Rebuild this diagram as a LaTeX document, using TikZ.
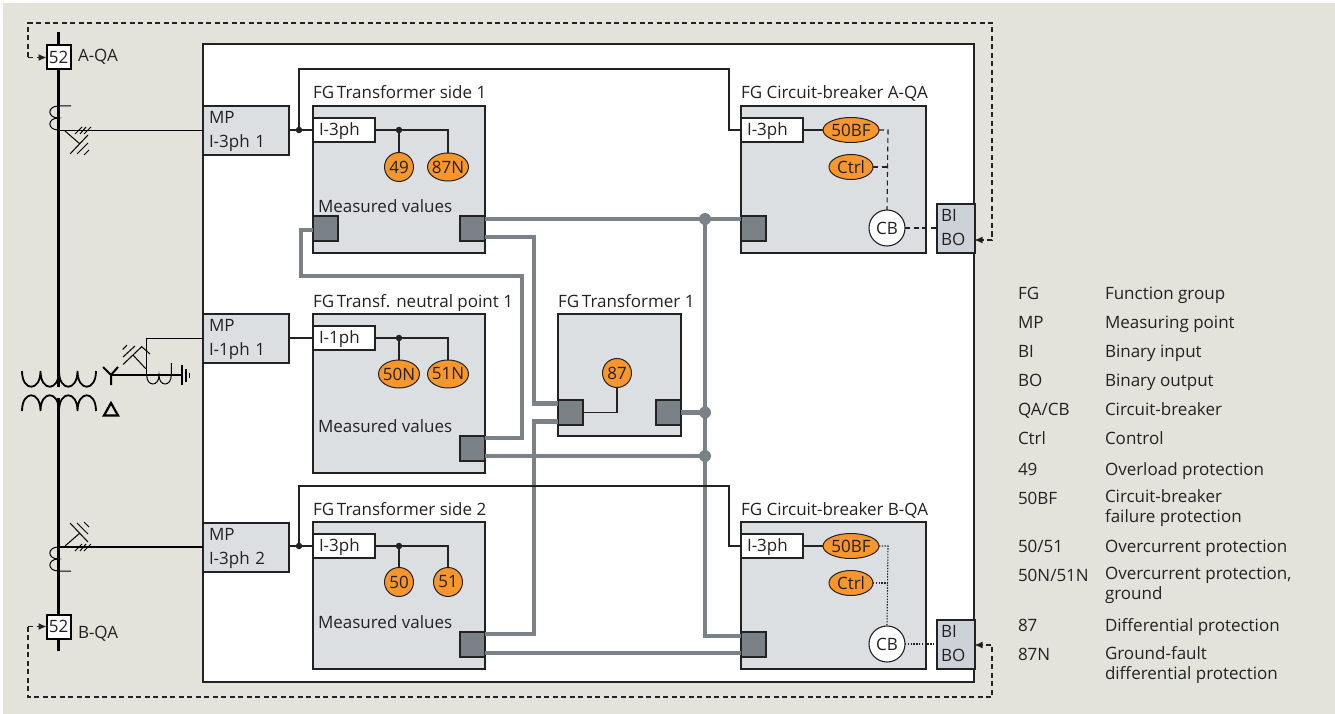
\documentclass[tikz,border=0pt]{standalone}
\usepackage{fontspec}
\setmainfont{Open Sans}
\usetikzlibrary{arrows.meta,calc,shapes.geometric}
\definecolor{pagebg}{HTML}{E3E3DC}
\definecolor{grpfill}{HTML}{DCDFE2}
\definecolor{iofill}{HTML}{CDD2D9}
\definecolor{busgray}{HTML}{7A8287}
\definecolor{ink}{HTML}{222222}
\definecolor{fnorange}{HTML}{F7962D}
\tikzset{
  every node/.style={inner sep=0pt,outer sep=0pt,text=ink,font=\fontsize{17}{24}\selectfont},
  frame/.style={draw=ink,line width=1.1pt,fill=white,anchor=north west},
  grp/.style={draw=ink,line width=1.1pt,fill=grpfill,anchor=north west},
  mpbox/.style={draw=ink,line width=1.1pt,fill=grpfill,anchor=north west,minimum width=86pt,minimum height=49pt,text width=74pt,inner xsep=6pt,align=left,execute at begin node=\rule{0pt}{14pt}},
  iobox/.style={draw=ink,line width=1.1pt,fill=iofill,anchor=north west,minimum width=37pt,minimum height=49pt,text width=30pt,inner xsep=4pt,align=left,execute at end node=\rule[-2pt]{0pt}{2pt}},
  inbox/.style={draw=ink,line width=1.1pt,fill=white,anchor=north west,minimum height=24pt,text width=50pt,inner xsep=6pt,align=left,execute at begin node=\rule{0pt}{16pt}},
  port/.style={draw=ink,line width=1.1pt,fill=busgray,anchor=north west,minimum width=25pt,minimum height=25pt},
  fncirc/.style={draw=ink,line width=1pt,fill=fnorange,circle,minimum size=29pt},
  fnoval/.style={draw=ink,line width=1pt,fill=fnorange,ellipse,minimum width=#1,minimum height=25pt},
  fnoval/.default=56pt,
  numoval/.style={fnoval=41pt,minimum height=28pt,inner xsep=-3.5pt},
  cbnode/.style={draw=ink,line width=1.1pt,fill=white,circle,minimum size=36pt},
  qa/.style={draw=black,line width=2pt,fill=white,minimum size=24pt},
  title/.style={anchor=base west},
  legend/.style={anchor=north west,align=left,font=\fontsize{17}{20}\selectfont,execute at begin node=\rule{0pt}{14pt}},
  wire/.style={draw=ink,line width=1.1pt},
  bus/.style={draw=busgray,line width=4.5pt},
  dashline/.style={draw=ink,line width=1.1pt,dash pattern=on 5pt off 3.5pt},
  dotline/.style={draw=ink,line width=1.1pt,dash pattern=on 1.4pt off 1.4pt},
  tiparrow/.style={-{Latex[length=8pt,width=7pt]}},
  thinsym/.style={draw=black,line width=1pt},
  dot/.style={circle,fill=ink,minimum size=6.5pt},
  busdot/.style={circle,fill=busgray,minimum size=12pt},
}
\begin{document}
\begin{tikzpicture}[x=1pt,y=-1pt]
\useasboundingbox (0,0) rectangle (1335,714);
\fill[white] (0,0) rectangle (1335,714);
\fill[pagebg] (3,3) rectangle (1335,714);

% outer device frame
\node[frame,minimum width=771pt,minimum height=638pt] (dev) at (203,44) {};

% measuring points
\node[mpbox] (mp1) at (203,106) {MP\\I-3ph 1};
\node[mpbox] (mp2) at (203,314) {MP\\I-1ph 1};
\node[mpbox] (mp3) at (203,523) {MP\\I-3ph 2};

% function groups
\node[grp,minimum width=172pt,minimum height=147pt] (ts1) at (313,106) {};
\node[grp,minimum width=172pt,minimum height=159pt] (np) at (313,314) {};
\node[grp,minimum width=172pt,minimum height=147pt] (ts2) at (313,522) {};
\node[grp,minimum width=123pt,minimum height=122pt] (tr) at (558,314) {};
\node[grp,minimum width=185pt,minimum height=147pt] (cba) at (741,106) {};
\node[grp,minimum width=185pt,minimum height=147pt] (cbb) at (741,522) {};

\node[title] (ttl1) at (313,99) {FG\,Transformer side 1};
\node[title] (ttl2) at (313,307) {FG\,Transf. neutral point 1};
\node[title] (ttl3) at (313,515) {FG\,Transformer side 2};
\node[title] (ttl4) at (558,307) {FG\,Transformer 1};
\node[title] (ttl5) at (741,99) {FG Circuit-breaker A-QA};
\node[title] (ttl6) at (741,515) {FG Circuit-breaker B-QA};

\node[title] (mv1) at (318,212) {Measured values};
\node[title] (mv2) at (318,432) {Measured values};
\node[title] (mv3) at (318,628) {Measured values};

% input boxes
\node[inbox] (in1) at (313,118) {I-3ph};
\node[inbox] (in2) at (313,326) {I-1ph};
\node[inbox] (in3) at (313,534) {I-3ph};
\node[inbox] (in4) at (741,118) {I-3ph};
\node[inbox] (in5) at (741,534) {I-3ph};

% ports
\node[port] (p1l) at (313,216) {};
\node[port] (p1r) at (460,216) {};
\node[port] (p2r) at (460,436) {};
\node[port] (p3r) at (460,632) {};
\node[port] (ptl) at (558,400) {};
\node[port] (ptr) at (656,400) {};
\node[port] (pa) at (741,216) {};
\node[port] (pb) at (741,632) {};

% function nodes
\node[fncirc] (f49) at (399,167) {49};
\node[numoval] (f87n) at (448,167) {87N};
\node[numoval] (f50n) at (399,374) {50N};
\node[numoval] (f51n) at (448,374) {51N};
\node[fncirc] (f50) at (399,582) {50};
\node[fncirc] (f51) at (448,582) {51};
\node[fncirc] (f87) at (617,373) {87};
\node[fnoval=56pt] (bfa) at (851,130) {50BF};
\node[fnoval=44pt] (ca) at (851,167) {Ctrl};
\node[fnoval=56pt] (bfb) at (851,546) {50BF};
\node[fnoval=44pt] (cb) at (851,583) {Ctrl};
\node[cbnode] (cba1) at (887,228) {CB};
\node[cbnode] (cbb1) at (887,644) {CB};

% binary IO
\node[iobox] (ioa) at (937,204) {BI\\BO};
\node[iobox] (iob) at (937,620) {BI\\BO};

% bus connectors
\coordinate (t1) at (705,219);
\coordinate (t2) at (705,412.5);
\coordinate (t3) at (705,456);
\draw[bus] ([yshift=9.5pt]p1r.east) -- ([yshift=9.5pt]pa.west);
\draw[bus] ([yshift=-8.5pt]p1r.east) -- ++(49,0) |- ([yshift=9pt]ptl.west);
\draw[bus] ([yshift=-1.5pt]p1l.west) -- ++(-12,0) |- (522,276) |- ([yshift=10.5pt]p2r.east);
\draw[bus] ([yshift=-7.5pt]p2r.east) -- (t3);
\draw[bus] (ptr.east) -- (t2);
\draw[bus] ([yshift=-9pt]ptl.west) -- ++(-24,0) |- ([yshift=10.5pt]p3r.east);
\draw[bus] ([yshift=-8.5pt]p3r.east) -- ([yshift=-8.5pt]pb.west);
\draw[bus] (t1) |- ([yshift=8.5pt]pb.west);
\node[busdot] (d1) at (t1) {};
\node[busdot] (d2) at (t2) {};
\node[busdot] (d3) at (t3) {};

% signal wires
\draw[wire] (mp1.east |- in1) -- (in1.west);
\draw[wire] (mp2.east |- in2) -- (in2.west);
\draw[wire] (mp3.east |- in3) -- (in3.west);
\node[dot] (j1) at (299,130) {};
\node[dot] (j3) at (299,546) {};
\draw[wire] (j1) -- (299,69) -- (729,69) -- (729,130) -- (in4.west);
\draw[wire] (j3) -- (299,486) -- (729,486) -- (729,546) -- (in5.west);
\node[dot] (k1) at (399,130) {};
\node[dot] (k3) at (399,546) {};
\node[dot] (k2) at (399,338) {};
\draw[wire] (in1.east) -- (k1) -- (448,130) -- (f87n.north);
\draw[wire] (k1) -- (f49.north);
\draw[wire] (in2.east) -- (k2) -- (448,338) -- (f51n.north);
\draw[wire] (k2) -- (f50n.north);
\draw[wire] (in3.east) -- (k3) -- (448,546) -- (f51.north);
\draw[wire] (k3) -- (f50.north);
\draw[wire] (ptl.east) -| (f87.south);
\draw[wire] (in4.east) -- (bfa.west);
\draw[wire] (in5.east) -- (bfb.west);

% trip paths
\draw[dashline] (bfa.east) -- (888,130) -- (cba1.north);
\draw[dashline] (ca.east) -- (888,167);
\draw[dashline] (cba1.east) -- (ioa.west |- cba1);
\draw[dotline] (bfb.east) -- (888,546) -- (cbb1.north);
\draw[dotline] (cb.east) -- (888,583);
\draw[dotline] (cbb1.east) -- (iob.west |- cbb1);

% single line: bus bar and breakers
\node[qa] (qa1) at (58.5,57.5) {52};
\node[qa] (qa2) at (58.5,626.5) {52};
\node[anchor=base west] (qal1) at (78,62) {A-QA};
\node[anchor=base west] (qal2) at (78,638) {B-QA};
\coordinate (bt) at (58.5,32);
\coordinate (bb) at (58.5,651);
\draw[black,line width=2.4pt] (bt) -- (qa1.north);
\draw[black,line width=2.4pt] (qa1.south) -- (58.5,387);
\draw[black,line width=2.4pt] (58.5,398) -- (qa2.north);
\draw[black,line width=2.4pt] (qa2.south) -- (bb);

% outside trip wiring
\coordinate (c1) at (28,23);
\coordinate (c2) at (992,23);
\coordinate (c3) at (992,697);
\coordinate (c4) at (28,697);
\draw[dashline,tiparrow] (c1 |- qa1) -- (c1) -- (c2) -- (c2 |- 0,240) -- (974.5,240);
\draw[dashline,tiparrow] (c4 |- qa2) -- (c4) -- (c3) -- (c3 |- 0,645) -- (974.5,645);
\draw[dashline,tiparrow] (c1 |- qa1) -- (qa1.west);
\draw[dashline,tiparrow] (c4 |- qa2) -- (qa2.west);

% current and voltage transformers, upper
\draw[wire,black] (58.5,130.5) -- (mp1.west |- 0,130.5);
\draw[thinsym] (71,106) -- (58.5,106) .. controls (47,106) and (47,118) .. (58.5,118) .. controls (47,118) and (47,130) .. (58.5,130);
\draw[thinsym] (65,131) -- (80,144) (88,135) -- (70,154) (88,143) -- (77,154) (89,150) -- (84,155);
\draw[thinsym] (75,134) -- (82,127) (80,134) -- (86,127) (84,134) -- (91,127);

% current and voltage transformers, lower
\draw[wire,black] (58.5,547) -- (mp3.west |- 0,547);
\draw[thinsym] (71,571) -- (58.5,571) .. controls (47,571) and (47,559) .. (58.5,559) .. controls (47,559) and (47,547) .. (58.5,547);
\draw[thinsym] (65,546) -- (80,533) (88,542) -- (70,523) (88,534) -- (77,523) (89,527) -- (84,522);
\draw[thinsym] (75,551) -- (82,544) (80,551) -- (86,544) (84,551) -- (91,544);

% power transformer
\draw[black,line width=1.8pt]
  (22,371) .. controls (22,392) and (40.5,392) .. (40.5,371)
  .. controls (40.5,392) and (59,392) .. (59,371)
  .. controls (59,392) and (77.5,392) .. (77.5,371)
  .. controls (77.5,392) and (96,392) .. (96,371);
\draw[black,line width=1.8pt]
  (22,411) .. controls (22,390) and (40.5,390) .. (40.5,411)
  .. controls (40.5,390) and (59,390) .. (59,411)
  .. controls (59,390) and (77.5,390) .. (77.5,411)
  .. controls (77.5,390) and (96,390) .. (96,411);
\draw[black,line width=2pt] (103,367) -- (111,375) -- (118,367) (111,375) -- (111,385);
\draw[black,line width=2.2pt] (104,415.5) -- (111,403) -- (118,415.5) -- cycle;

% neutral point branch
\draw[black,line width=1.5pt] (111,375) -- (182,375);
\draw[black,line width=1.6pt] (182,365) -- (182,385);
\draw[black,line width=1.6pt] (186,369) -- (186,382);
\draw[black,line width=1.6pt] (189.5,372.5) -- (189.5,378);
\draw[thinsym] (146.7,375) .. controls (146.7,387) and (159,387) .. (159,375) .. controls (159,387) and (171.3,387) .. (171.3,375) -- (171.3,363);
\draw[wire,black] (146.7,375) -- (146.7,338.5) -- (mp2.west |- 0,338.5);
\draw[thinsym] (146,369) -- (133,355) (123,364.5) -- (141.7,346.7) -- (150,354) (123,357) -- (135,346) (122.7,349.5) -- (127,345);

% legend
\node[legend] (a1) at (1018,285) {FG};
\node[legend] (b1) at (1105,285) {Function group};
\node[legend] (a2) at (1018,314) {MP};
\node[legend] (b2) at (1105,314) {Measuring point};
\node[legend] (a3) at (1018,343) {BI};
\node[legend] (b3) at (1105,343) {Binary input};
\node[legend] (a4) at (1018,372) {BO};
\node[legend] (b4) at (1105,372) {Binary output};
\node[legend] (a5) at (1018,401) {QA/CB};
\node[legend] (b5) at (1105,401) {Circuit-breaker};
\node[legend] (a6) at (1018,430) {Ctrl};
\node[legend] (b6) at (1105,430) {Control};
\node[legend] (a7) at (1018,461) {49};
\node[legend] (b7) at (1105,461) {Overload protection};
\node[legend] (a8) at (1018,490) {50BF};
\node[legend] (b8) at (1105,490) {Circuit-breaker\\failure protection};
\node[legend] (a9) at (1018,538) {50/51};
\node[legend] (b9) at (1105,538) {Overcurrent protection};
\node[legend] (a10) at (1018,567.5) {50N/51N};
\node[legend] (b10) at (1105,567.5) {Overcurrent protection,\\ground};
\node[legend] (a11) at (1018,617) {87};
\node[legend] (b11) at (1105,617) {Differential protection};
\node[legend] (a12) at (1018,646) {87N};
\node[legend] (b12) at (1105,646) {Ground-fault\\differential protection};
\end{tikzpicture}
\end{document}
